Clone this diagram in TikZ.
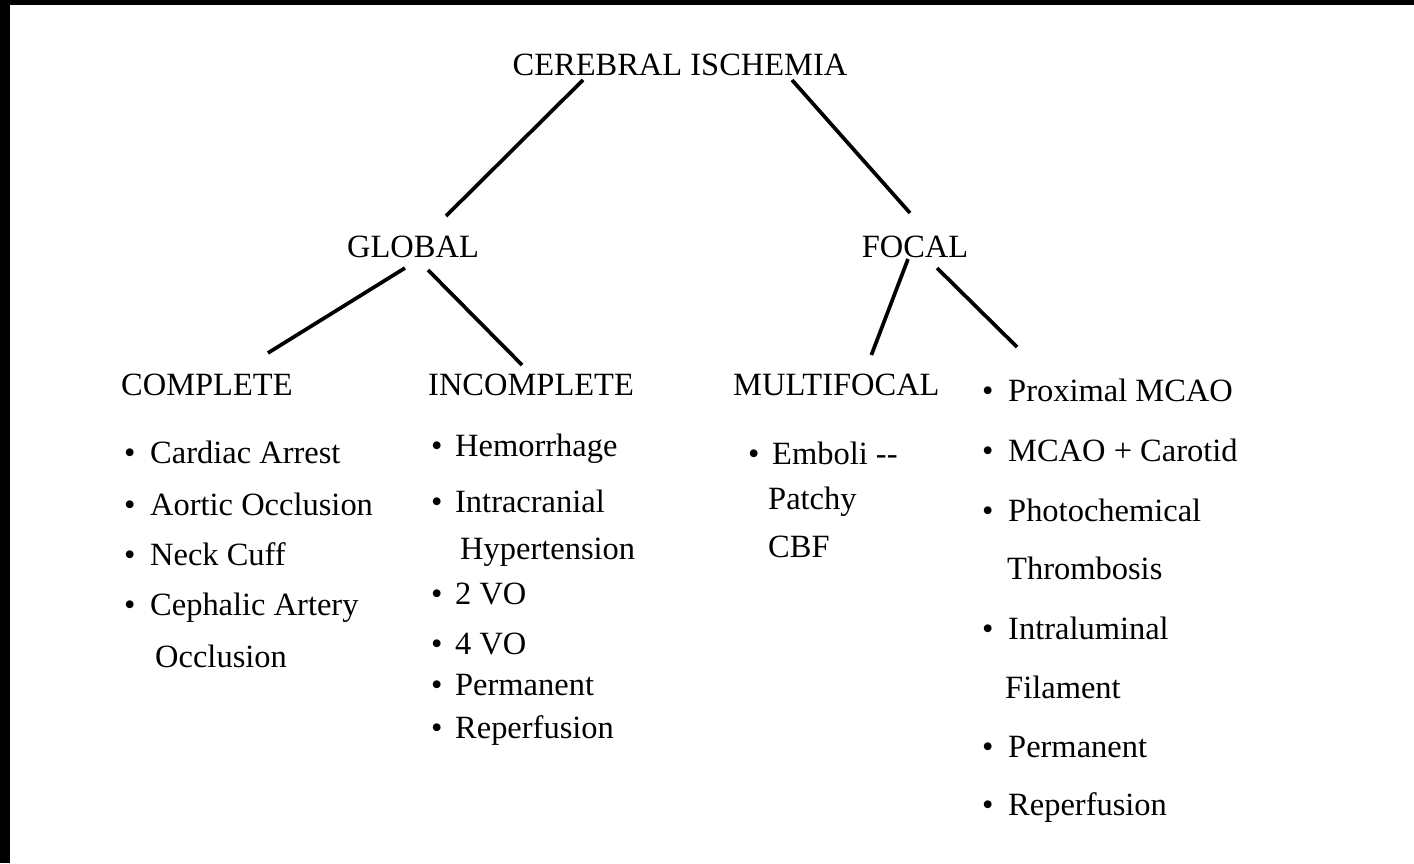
\documentclass[tikz,border=0pt]{standalone}
\usepackage{fontspec}
\setmainfont{Liberation Serif}
\usetikzlibrary{calc}
\newcommand\itemdot[1]{\makebox[#1][l]{\textbullet}}
\begin{document}
\begin{tikzpicture}[x=1bp,y=-1bp,
  lbl/.style={inner sep=0pt, font=\fontsize{32.6pt}{39pt}\selectfont},
  head/.style={lbl, anchor=base},
  entry/.style={lbl, anchor=base west},
  link/.style={line width=3.7bp, line cap=butt}]
\useasboundingbox (0,0) rectangle (1414,863);
\fill[black] (0,0) rectangle (1414,5);
\fill[black] (0,0) rectangle (10,863);

% headings
\node[head] (title) at (680,75) {CEREBRAL ISCHEMIA};
\node[head] (global) at (413,257) {GLOBAL};
\node[head] (focal) at (915,257) {FOCAL};
\node[entry] (complete) at (121,395) {COMPLETE};
\node[entry] (incomplete) at (428,395) {INCOMPLETE};
\node[entry] (multi) at (733,395) {MULTIFOCAL};

% complete list
\node[entry] (c1) at (124,463) {\itemdot{26bp}Cardiac Arrest};
\node[entry] (c2) at (124,515) {\itemdot{26bp}Aortic Occlusion};
\node[entry] (c3) at (124,565) {\itemdot{26bp}Neck Cuff};
\node[entry] (c4) at (124,615) {\itemdot{26bp}Cephalic Artery};
\node[entry] (c5) at (155,667) {Occlusion};

% incomplete list
\node[entry] (i1) at (431,456) {\itemdot{24bp}Hemorrhage};
\node[entry] (i2) at (431,512) {\itemdot{24bp}Intracranial};
\node[entry] (i3) at (460,559) {Hypertension};
\node[entry] (i4) at (431,604) {\itemdot{24bp}2 VO};
\node[entry] (i5) at (431,654) {\itemdot{24bp}4 VO};
\node[entry] (i6) at (431,695) {\itemdot{24bp}Permanent};
\node[entry] (i7) at (431,738) {\itemdot{24bp}Reperfusion};

% multifocal list
\node[entry] (m1) at (748,464) {\itemdot{24bp}Emboli {-}{-}};
\node[entry] (m2) at (768,509) {Patchy};
\node[entry] (m3) at (768,557) {CBF};

% focal list
\node[entry] (f1) at (982,401) {\itemdot{26bp}Proximal MCAO};
\node[entry] (f2) at (982,461) {\itemdot{26bp}MCAO + Carotid};
\node[entry] (f3) at (982,521) {\itemdot{26bp}Photochemical};
\node[entry] (f4) at (1007,579) {Thrombosis};
\node[entry] (f5) at (982,639) {\itemdot{26bp}Intraluminal};
\node[entry] (f6) at (1005,698) {Filament};
\node[entry] (f7) at (982,757) {\itemdot{26bp}Permanent};
\node[entry] (f8) at (982,815) {\itemdot{26bp}Reperfusion};

% connectors
\draw[link] ($(title.base)+(-97,5)$) -- ($(global.base)+(33,-41)$);
\draw[link] ($(title.base)+(112,5)$) -- ($(focal.base)+(-5,-44)$);
\draw[link] ($(global.base)+(-8,11)$) -- ($(complete.base)+(61,-42)$);
\draw[link] ($(global.base)+(15,13)$) -- ($(incomplete.base)+(-9,-30)$);
\draw[link] ($(focal.base)+(-7,2)$) -- ($(multi.base)+(35,-40)$);
\draw[link] ($(focal.base)+(22,11)$) -- ($(f1.base west)+(35,-54)$);
\end{tikzpicture}
\end{document}
